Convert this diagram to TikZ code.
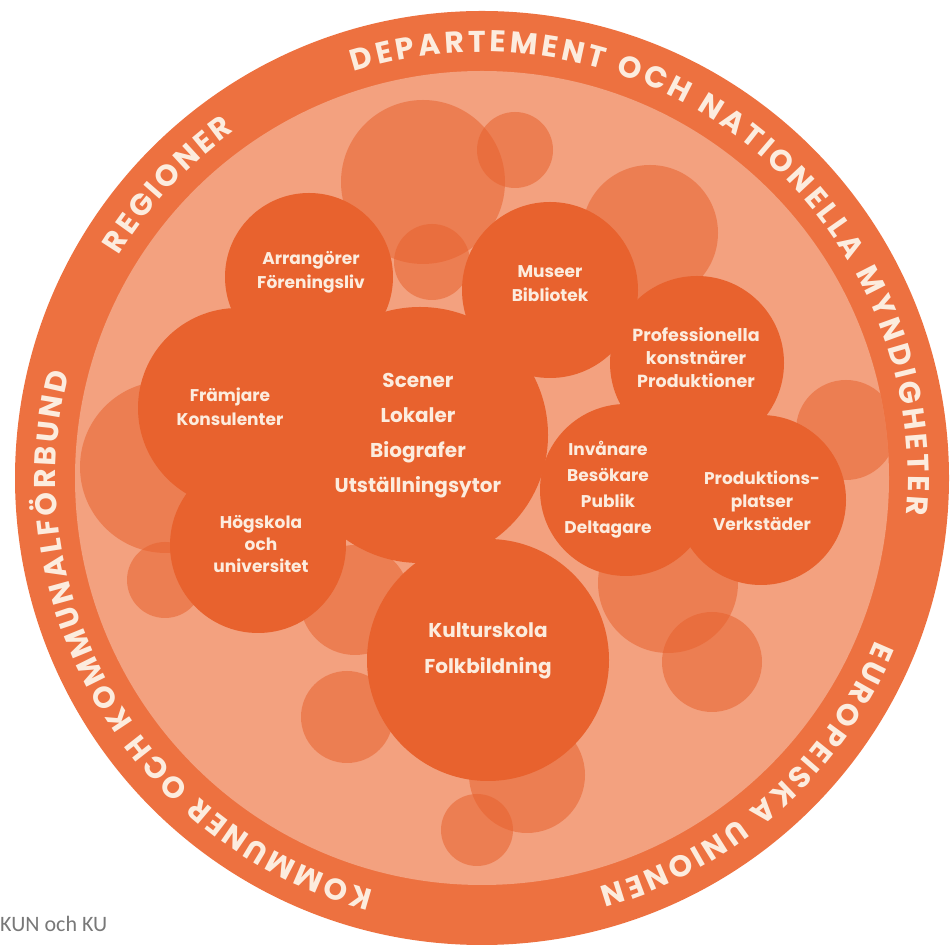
\documentclass[tikz,border=0pt]{standalone}
\usepackage{fontspec}
\setmainfont{Poppins}
\newfontfamily\notefont{Carlito}
\usepackage{xcolor}
\usepackage{tikz}
\usetikzlibrary{decorations.text,positioning}
\definecolor{ringorange}{RGB}{237,113,64}
\definecolor{disklight}{RGB}{243,161,127}
\definecolor{bubbledark}{RGB}{232,98,46}
\definecolor{labeltext}{RGB}{252,236,222}
\definecolor{notegray}{RGB}{120,120,120}
\newcommand{\ringfont}{\bfseries\fontsize{30}{30}\selectfont}
\tikzset{
  bubble/.style={circle, fill=bubbledark, inner sep=0pt, minimum size=#1},
  ghost/.style={circle, fill=bubbledark, fill opacity=0.55, inner sep=0pt, minimum size=#1},
  txt/.style={text=labeltext, font=\bfseries\fontsize{17}{24}\selectfont, align=center, inner sep=0pt},
  bigtxt/.style={text=labeltext, font=\bfseries\fontsize{20}{35}\selectfont, align=center, inner sep=0pt},
  ringtxt/.style={decorate, decoration={text along path, text align=fit to path,
    text color=labeltext, text={|\ringfont|#1}}}
}

\begin{document}
\begin{tikzpicture}[x=1pt, y=1pt]
	  \useasboundingbox (0,0) rectangle (950,950);
	  \coordinate (c) at (482,472);
	
	  % ring and inner disk
	  \fill [ringorange] (c) circle (467pt);
	  \fill [disklight] (c) circle (407pt);
	
	  % pale bubbles in the back
	  \begin{scope}
	    \clip (c) circle (407pt);
	    \node [ghost=164pt] (g1) at (423,768) {};
	    \node [ghost=76pt] (g2) at (515,800) {};
	    \node [ghost=136pt] (g3) at (650,717) {};
	    \node [ghost=76pt] (g4) at (432,688) {};
	    \node [ghost=172pt] (g5) at (166,483) {};
	    \node [ghost=76pt] (g6) at (165,370) {};
	    \node [ghost=100pt] (g7) at (846,520) {};
	    \node [ghost=100pt] (g8) at (712,288) {};
	    \node [ghost=140pt] (g9) at (668,367) {};
	    \node [ghost=92pt] (g10) at (347,233) {};
	    \node [ghost=110pt] (g11) at (355,350) {};
	    \node [ghost=116pt] (g12) at (527,175) {};
	    \node [ghost=72pt] (g13) at (477,120) {};
	  \end{scope}
	
	  % labelled bubbles
	  \node [bubble=168pt] (arr) at (309,673) {};
	  \node [bubble=176pt] (mus) at (550,660) {};
	  \node [bubble=174pt] (prof) at (697,587) {};
	  \node [bubble=200pt] (fram) at (238,542) {};
	  \node [bubble=256pt] (scen) at (420,515) {};
	  \node [bubble=176pt] (hog) at (258,405) {};
	  \node [bubble=172pt] (inv) at (626,460) {};
	  \node [bubble=170pt] (prodpl) at (761,450) {};
	  \node [bubble=242pt] (kult) at (488,290) {};
	
	  \node [txt] (arrtxt) at (311,678) {Arrangörer\\Föreningsliv};
	  \node [txt] (mustxt) at (550,666) {Museer\\Bibliotek};
	  \node [txt, font=\bfseries\fontsize{17.5}{23}\selectfont] (proftxt) at (696,592) {Professionella\\konstnärer\\Produktioner};
	  \node [txt] (framtxt) at (230,543) {Främjare\\Konsulenter};
	  \node [bigtxt] (scentxt) at (418,514) {Scener\\Lokaler\\Biografer\\Utställningsytor};
	  \node [txt, font=\bfseries\fontsize{17}{22}\selectfont] (hogtxt) at (261,406) {Högskola\\och\\universitet};
	  \node [txt, font=\bfseries\fontsize{17}{26}\selectfont] (invtxt) at (608,460) {Invånare\\Besökare\\Publik\\Deltagare};
	  \node [txt, font=\bfseries\fontsize{17}{23}\selectfont] (prodpltxt) at (762,449) {Produktions-\\platser\\Verkstäder};
	  \node [bigtxt, font=\bfseries\fontsize{20}{36}\selectfont] (kulttxt) at (488,299) {Kulturskola\\Folkbildning};
	
	  % texts in the ring
	  \path [ringtxt={DEPARTEMENT OCH NATIONELLA MYNDIGHETER}] (c) ++(107.5:426pt) arc [start angle=107.5, end angle=-5, radius=426pt];
	  \path [ringtxt={REGIONER}] (c) ++(148.5:426pt) arc [start angle=148.5, end angle=125.5, radius=426pt];
	  \path [ringtxt={KOMMUNER OCH KOMMUNALFÖRBUND}] (c) ++(255.3:426pt) arc [start angle=255.3, end angle=165.8, radius=426pt];
	  \path [ringtxt={EUROPEISKA UNIONEN}] (c) ++(-22.4:426pt) arc [start angle=-22.4, end angle=-74, radius=426pt];
	
	  \node [anchor=base west, inner sep=0pt, text=notegray, font=\notefont\fontsize{22}{22}\selectfont] (src) at (0,18) {KUN och KU};
	\end{tikzpicture}
\end{document}
